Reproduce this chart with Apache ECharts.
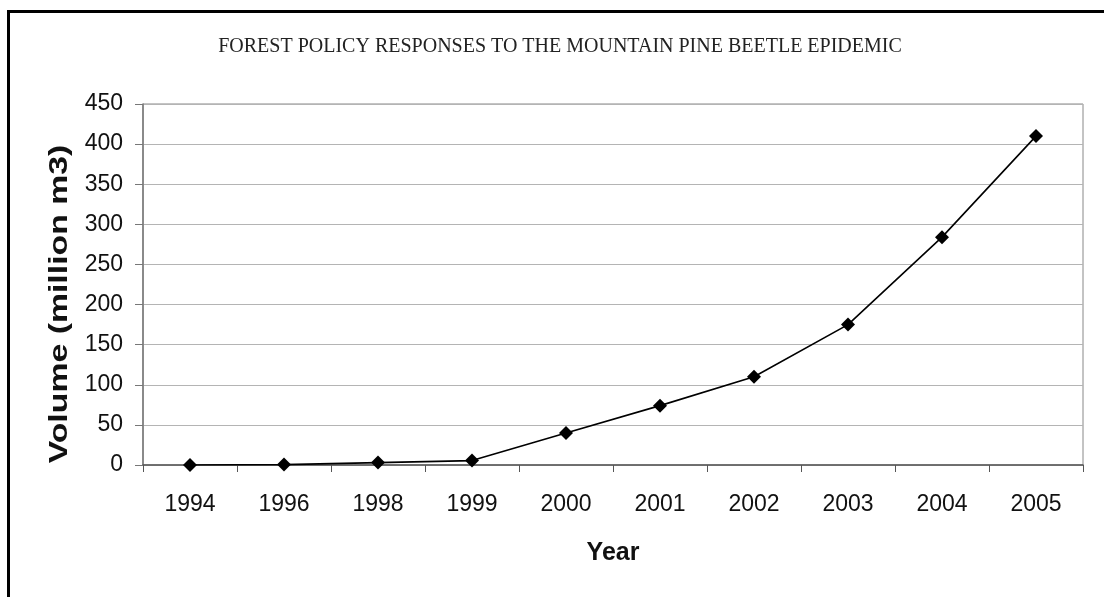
<!DOCTYPE html>
<html>
<head>
<meta charset="utf-8">
<script src="https://cdn.jsdelivr.net/npm/echarts@6/dist/echarts.min.js"></script>
<style>
  html, body { margin: 0; padding: 0; background: #fff; }
  #frame { position: absolute; left: 7px; top: 10px; width: 1097px; height: 587px;
    border-top: 3px solid #000; border-left: 3px solid #000; }
  #chart { position: absolute; left: 0; top: 0; width: 1104px; height: 597px; }
</style>
</head>
<body>
<div id="frame"></div>
<div id="chart"></div>
<script>
// years on the x axis
const years = ['1994', '1996', '1998', '1999', '2000', '2001', '2002', '2003', '2004', '2005']
// volume (million m3)
const volume = [0, 0.5, 3, 5.5, 40, 74, 110, 175, 284, 410]
const yName = 'Volume (million m3)'

const chart = echarts.init(document.getElementById('chart'))
const option = {
  animation: false,
  title: {
    text: 'FOREST POLICY RESPONSES TO THE MOUNTAIN PINE BEETLE EPIDEMIC',
    left: 555,
    textAlign: 'center',
    top: 32,
    textStyle: { fontFamily: 'Liberation Serif', fontWeight: 'normal', fontSize: 20, color: '#222' }
  },
  // y axis title, stretched along its length like the original
  graphic: [{
    type: 'text',
    x: 60,
    y: 304,
    rotation: Math.PI / 2,
    scaleX: 1.3,
    style: {
      text: yName,
      font: 'bold 26px "Liberation Sans"',
      fill: '#111',
      align: 'center',
      verticalAlign: 'middle'
    }
  }],
  grid: { left: 143, right: 21, top: 104, bottom: 132, show: true, borderColor: '#888', borderWidth: 1 },
  xAxis: {
    type: 'category',
    data: years,
    boundaryGap: true,
    name: 'Year',
    nameLocation: 'middle',
    nameGap: 76,
    nameTextStyle: { fontFamily: 'Liberation Sans', fontWeight: 'bold', fontSize: 25, color: '#111' },
    axisLine: { lineStyle: { color: '#555', width: 1.5 } },
    axisTick: { show: true, alignWithLabel: false, length: 7, lineStyle: { color: '#555' } },
    axisLabel: { fontFamily: 'Liberation Sans', fontSize: 23, color: '#111', margin: 28 }
  },
  yAxis: {
    type: 'value',
    min: 0,
    max: 450,
    interval: 50,
    axisLine: { show: true, lineStyle: { color: '#777', width: 1.5 } },
    axisTick: { show: true, length: 8, lineStyle: { color: '#777' } },
    axisLabel: { fontFamily: 'Liberation Sans', fontSize: 23, color: '#111', margin: 20 },
    splitLine: { lineStyle: { color: '#b4b4b4', width: 1.2 } }
  },
  series: [{
    type: 'line',
    data: volume,
    symbol: 'diamond',
    symbolSize: 14,
    itemStyle: { color: '#000' },
    lineStyle: { color: '#000', width: 1.6 }
  }]
}
chart.setOption(option)
</script>
</body>
</html>
